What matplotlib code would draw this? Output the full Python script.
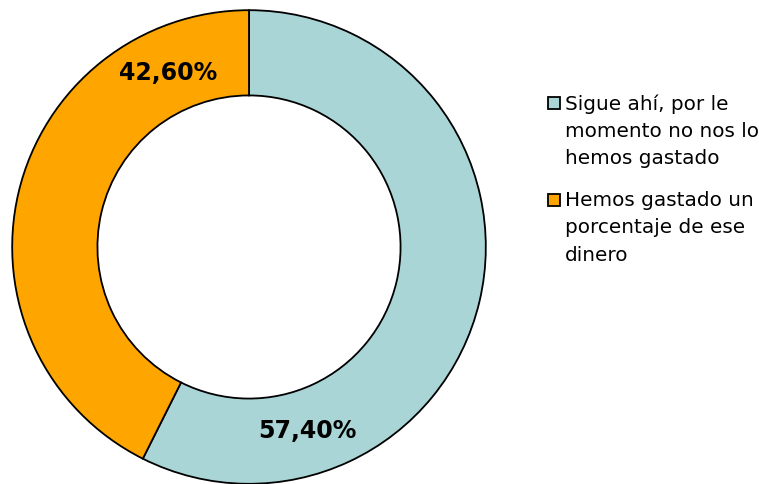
import matplotlib.pyplot as plt
from matplotlib.patches import Rectangle

labels = ["Sigue ahí, por le\nmomento no nos lo\nhemos gastado",
          "Hemos gastado un\nporcentaje de ese\ndinero"]
values = [57.4, 42.6]
pct_text = ["57,40%", "42,60%"]
colors = ["#A9D5D6", "#FFA500"]

W, H = 759, 484
fig = plt.figure(figsize=(W / 100, H / 100), dpi=100)
ax = fig.add_axes([11 / W, (H - 247 - 238) / H, 476 / W, 476 / H])

wedges, _ = ax.pie(values, colors=colors, startangle=90, counterclock=False,
                   radius=1, wedgeprops=dict(width=0.36, edgecolor="black", linewidth=1.3))
ax.set_xlim(-1.005, 1.005)
ax.set_ylim(-1.005, 1.005)
ax.set_aspect("equal")
ax.axis("off")

# value labels sit in the ring, not at the wedge midpoints
ax.text(0.245, -0.775, pct_text[0], ha="center", va="center",
        fontsize=17, fontweight="bold")
ax.text(-0.34, 0.735, pct_text[1], ha="center", va="center",
        fontsize=17, fontweight="bold")

# legend drawn by hand so the square lines up with the first text line
tops = [94, 191]
for lab, c, top in zip(labels, colors, tops):
    fig.patches.append(Rectangle((548 / W, 1 - (top + 15) / H), 12 / W, 12 / H,
                                 transform=fig.transFigure, facecolor=c,
                                 edgecolor="black", linewidth=1.3))
    fig.text(565 / W, 1 - top / H, lab, ha="left", va="top",
             fontsize=14.4, linespacing=1.56)

fig.savefig("out.png", dpi=100)
